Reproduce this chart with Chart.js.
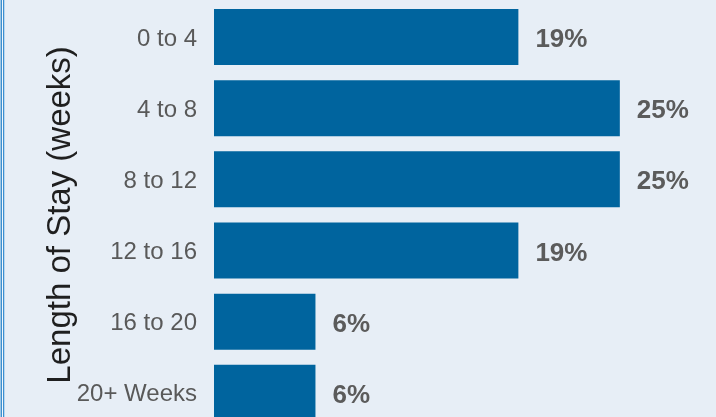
<!DOCTYPE html>
<html>
<head>
<meta charset="utf-8">
<script src="https://cdn.jsdelivr.net/npm/chart.js@4.4.1/dist/chart.umd.min.js"></script>
<style>
  html, body { margin: 0; padding: 0; width: 716px; height: 417px; overflow: hidden; background: #e7eef6; }
  #wrap { position: absolute; left: 0; top: 0; width: 716px; height: 430px; }
  .edge { position: absolute; top: 0; height: 417px; width: 1px; }
</style>
</head>
<body>
<div id="wrap"><canvas id="c"></canvas></div>
<div class="edge" style="left:0;background:#9ec7e6"></div>
<div class="edge" style="left:1px;background:#3d8fcf"></div>
<div class="edge" style="left:2px;background:#f3f8fc"></div>
<div class="edge" style="left:3px;background:#3d8fcf"></div>
<div class="edge" style="left:4px;background:#b9d6ee"></div>
<script>
const categories = ["0 to 4", "4 to 8", "8 to 12", "12 to 16", "16 to 20", "20+ Weeks"];
const shares = [18.75, 25, 25, 18.75, 6.25, 6.25];
const axisTitle = "Length of Stay (weeks)";

const valueLabels = {
  id: 'valueLabels',
  afterDatasetsDraw(chart) {
    const ctx = chart.ctx;
    const meta = chart.getDatasetMeta(0);
    ctx.save();
    ctx.font = 'bold 26px "Liberation Sans", Arial, sans-serif';
    ctx.fillStyle = '#5b5b5b';
    ctx.textAlign = 'left';
    ctx.textBaseline = 'middle';
    meta.data.forEach((bar, i) => {
      ctx.fillText(Math.round(shares[i]) + '%', bar.x + 17, bar.y + 3);
    });
    ctx.restore();
  }
};

new Chart(document.getElementById('c'), {
  type: 'bar',
  data: {
    labels: categories,
    datasets: [{
      data: shares,
      backgroundColor: '#00649e',
      borderWidth: 0,
      categoryPercentage: 1,
      barPercentage: 0.7865
    }]
  },
  options: {
    indexAxis: 'y',
    responsive: true,
    maintainAspectRatio: false,
    animation: false,
    layout: { padding: { left: 41, right: 15, top: 1.4, bottom: 1.6 } },
    plugins: { legend: { display: false }, tooltip: { enabled: false } },
    scales: {
      x: {
        display: false,
        min: 0,
        max: 30
      },
      y: {
        grid: { display: false, drawTicks: false },
        border: { display: false },
        afterFit(s) { s.width = 173; s.paddingTop = 0; s.paddingBottom = 0; },
        ticks: {
          padding: 17,
          labelOffset: 2,
          color: '#595959',
          font: { family: '"Liberation Sans", Arial, sans-serif', size: 24 }
        },
        title: {
          display: true,
          text: axisTitle,
          color: '#1f1f1f',
          padding: { top: 0, bottom: 0 },
          font: { family: '"Liberation Sans", Arial, sans-serif', size: 33 }
        }
      }
    }
  },
  plugins: [valueLabels]
});
</script>
</body>
</html>
